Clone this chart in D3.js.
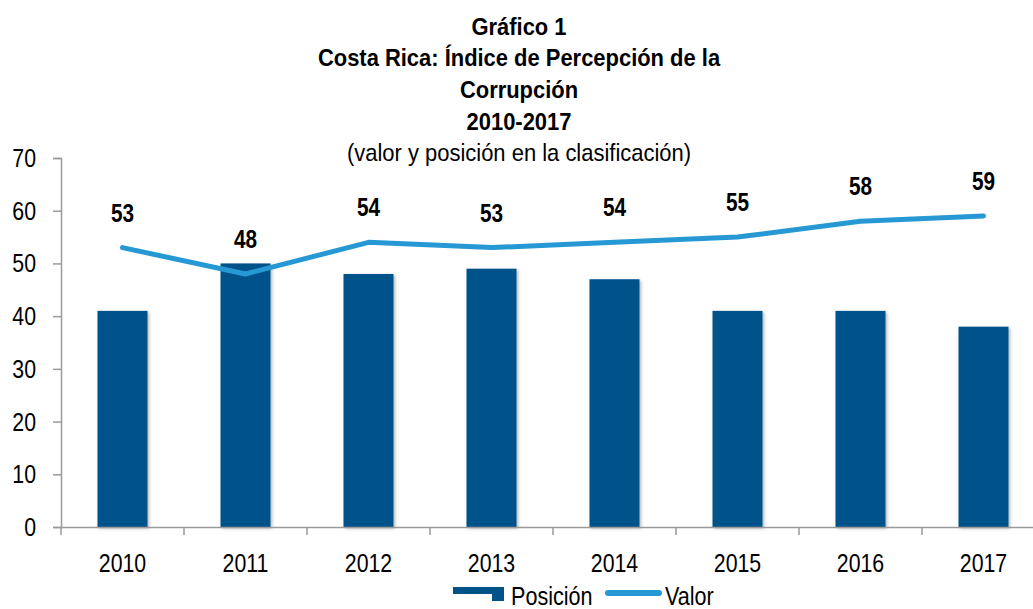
<!DOCTYPE html>
<html><head><meta charset="utf-8">
<script src="https://cdn.jsdelivr.net/npm/d3@7"></script>
<style>body{margin:0;background:#fff}svg{display:block}text{font-family:"Liberation Sans",Arial,sans-serif}</style>
</head><body><svg id="c" width="1033" height="609"></svg>
<script>
const years = ["2010","2011","2012","2013","2014","2015","2016","2017"];
const posicion = [41,50,48,49,47,41,41,38];
const valor = [53,48,54,53,54,55,58,59];
const yTicks = [0,10,20,30,40,50,60,70];
const titleLines = ["Gráfico 1","Costa Rica: Índice de Percepción de la","Corrupción","2010-2017"];
const subtitle = "(valor y posición en la clasificación)";

const svg = d3.select("#c");
const xc = d3.scaleBand().domain(years).range([61, 1045]);
const y = d3.scaleLinear().domain([0,70]).range([527,158]);

function txt(g, x, yy, s, size, sx, opt={}) {
  return g.append("text").attr("transform",`translate(${x},${yy}) scale(${sx},1)`)
    .attr("font-size",size).attr("font-weight",opt.bold?"bold":"normal")
    .attr("text-anchor",opt.anchor||"start").attr("fill","#000").text(s);
}

// title
const tY = [35, 66, 98, 130];
titleLines.forEach((t,i)=>txt(svg,519,tY[i],t,24,0.914,{bold:true,anchor:"middle"}));
txt(svg,519,161,subtitle,24,0.915,{anchor:"middle"});

// shadow filter
const defs = svg.append("defs");
const f = defs.append("filter").attr("id","sh").attr("x","-20%").attr("y","-20%").attr("width","140%").attr("height","140%");
f.append("feDropShadow").attr("dx",1.5).attr("dy",1.5).attr("stdDeviation",1.5).attr("flood-color","#000").attr("flood-opacity",0.3);

// bars
svg.append("g").selectAll("rect").data(years).join("rect")
  .attr("x",d=>xc(d)+xc.bandwidth()/2-25).attr("width",50)
  .attr("y",(d,i)=>y(posicion[i])).attr("height",(d,i)=>y(0)-y(posicion[i]))
  .attr("fill","#02528A").attr("filter","url(#sh)");

// axes
const ya = svg.append("g").attr("transform","translate(61,0)")
  .call(d3.axisLeft(y).tickValues(yTicks).tickSize(8).tickFormat(""));
ya.select(".domain").attr("stroke","#9a9a9a").attr("stroke-width",1.5);
ya.selectAll(".tick line").attr("stroke","#9a9a9a").attr("stroke-width",1.5);
const yl = svg.append("g");
yTicks.forEach(v=>txt(yl,36,y(v)+9,String(v),26,0.82,{anchor:"end"}));

const xa = svg.append("g").attr("transform","translate(0,527)")
  .call(d3.axisBottom(xc).tickSize(0).tickFormat(""));
xa.select(".domain").attr("stroke","#9a9a9a").attr("stroke-width",1.5);
svg.append("g").selectAll("line").data(years).join("line")
  .attr("x1",d=>xc(d)).attr("x2",d=>xc(d)).attr("y1",527).attr("y2",535)
  .attr("stroke","#9a9a9a").attr("stroke-width",1.5);
const xl = svg.append("g");
years.forEach(d=>txt(xl,xc(d)+xc.bandwidth()/2,572,d,26,0.82,{anchor:"middle"}));

// line
const line = d3.line().x((d,i)=>xc(years[i])+xc.bandwidth()/2).y(d=>y(d));
svg.append("path").datum(valor).attr("d",line).attr("fill","none")
  .attr("stroke","#2699D4").attr("stroke-width",5).attr("stroke-linecap","round").attr("stroke-linejoin","round");
const dl = svg.append("g");
valor.forEach((v,i)=>txt(dl,xc(years[i])+xc.bandwidth()/2,y(v)-26,String(v),25,0.83,{bold:true,anchor:"middle"}));

// legend
const lg = svg.append("g");
lg.append("rect").attr("x",453).attr("y",587).attr("width",40).attr("height",7).attr("fill","#02528A");
lg.append("rect").attr("x",492).attr("y",587).attr("width",12).attr("height",14).attr("fill","#02528A");
txt(lg,511,605,"Posición",26,0.83);
lg.append("line").attr("x1",608).attr("x2",659).attr("y1",593).attr("y2",593)
  .attr("stroke","#2699D4").attr("stroke-width",6).attr("stroke-linecap","round");
txt(lg,665,605,"Valor",26,0.83);
</script></body></html>
